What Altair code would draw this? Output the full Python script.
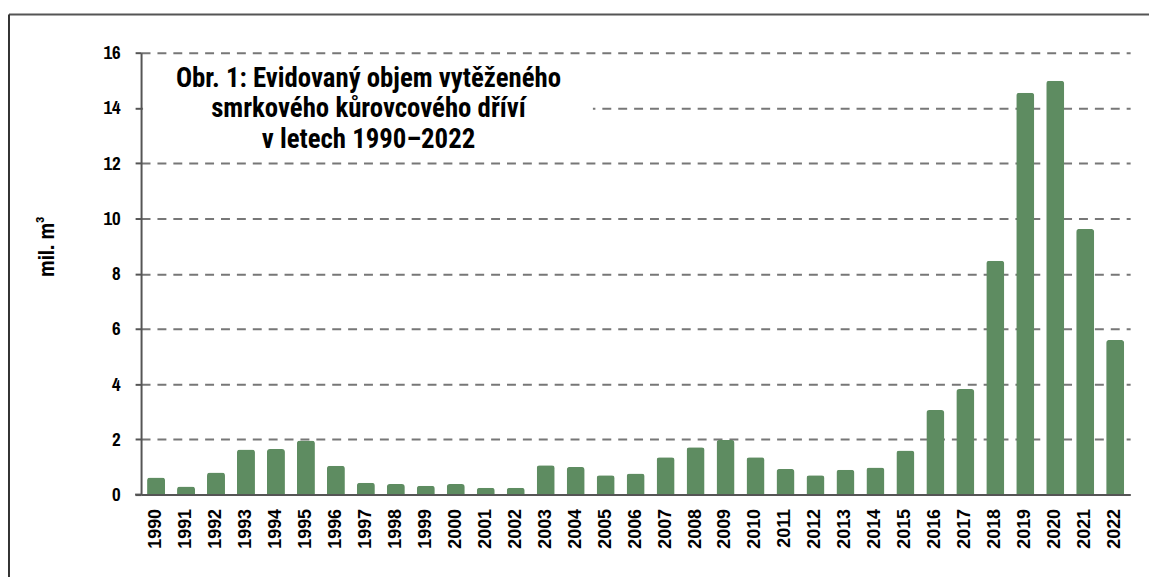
import altair as alt
import pandas as pd

years = ["1990", "1991", "1992", "1993", "1994", "1995", "1996", "1997", "1998", "1999",
         "2000", "2001", "2002", "2003", "2004", "2005", "2006", "2007", "2008", "2009",
         "2010", "2011", "2012", "2013", "2014", "2015", "2016", "2017", "2018", "2019",
         "2020", "2021", "2022"]
values = [0.62, 0.29, 0.80, 1.63, 1.65, 1.96, 1.04, 0.43, 0.38, 0.32,
          0.38, 0.25, 0.25, 1.06, 1.00, 0.70, 0.76, 1.35, 1.71, 1.98,
          1.35, 0.93, 0.70, 0.90, 0.98, 1.60, 3.06, 3.82, 8.47, 14.55,
          14.98, 9.62, 5.60]
y_ticks = [0, 2, 4, 6, 8, 10, 12, 14, 16]
title_lines = ["Obr. 1: Evidovaný objem vytěženého",
               "smrkového kůrovcového dříví",
               "v letech 1990–2022"]
y_title = "mil. m³"

NARROW = "Archivo Narrow"
TITLE_FONT = "Roboto Condensed"
ARIAL = "Liberation Sans"
W, H = 996, 445
PAD = {"left": 134, "top": 43, "right": 19, "bottom": 83}

df = pd.DataFrame({"year": years, "value": values})
one = pd.DataFrame({"k": [0]})

bars = alt.Chart(df).mark_bar(
    color="#5e8c61", cornerRadiusTopLeft=3, cornerRadiusTopRight=3
).encode(
    x=alt.X("year:N", sort=years,
            scale=alt.Scale(paddingInner=0.4, paddingOuter=0.2),
            axis=alt.Axis(title=None, labelAngle=-90, labelFont=ARIAL,
                          labelFontWeight="bold", labelFontSize=18,
                          labelColor="#000", labelPadding=14, ticks=False,
                          tickSize=0, domainColor="#555", domainWidth=2,
                          zindex=1)),
    y=alt.Y("value:Q", scale=alt.Scale(domain=[0, 16], nice=False),
            axis=alt.Axis(title=y_title, values=y_ticks, format="d",
                          labelFont=NARROW, labelFontWeight="bold",
                          labelFontSize=19, labelColor="#000", labelPadding=15,
                          tickSize=6, tickColor="#555", tickWidth=2,
                          domainColor="#555", domainWidth=2,
                          grid=True, gridColor="#777", gridDash=[9, 7],
                          gridWidth=2,
                          titleFont=NARROW, titleFontSize=23,
                          titleFontWeight="bold", titleColor="#000",
                          titleAngle=-90, titleX=-95, titleY=195,
                          titleAlign="center", titleBaseline="middle")),
)

title_box = alt.Chart(one).mark_rect(color="white").encode(
    x=alt.value(2), x2=alt.value(455), y=alt.value(9), y2=alt.value(99)
)

title_layers = [
    alt.Chart(one).mark_text(
        font=TITLE_FONT, fontSize=27, fontWeight="bold", align="center",
        baseline="middle", color="#000"
    ).encode(x=alt.value(229), y=alt.value(26.5 + 30.5 * i), text=alt.value(line))
    for i, line in enumerate(title_lines)
]

axis_stub = alt.Chart(one).mark_rule(color="#555", strokeWidth=2).encode(
    x=alt.value(-6), x2=alt.value(0), y=alt.value(H)
)
frame_top = alt.Chart(one).mark_rule(color="#555", strokeWidth=2).encode(
    x=alt.value(-133), x2=alt.value(W + PAD["right"]), y=alt.value(-38.5)
)
frame_left = alt.Chart(one).mark_rule(color="#333", strokeWidth=2).encode(
    x=alt.value(-133), y=alt.value(-38.5), y2=alt.value(H + PAD["bottom"])
)

chart = alt.layer(bars, title_box, *title_layers, axis_stub, frame_top, frame_left).properties(
    width=W, height=H,
    autosize=alt.AutoSizeParams(type="none"),
    padding=PAD,
    background="white",
).configure_view(stroke=None)

chart.save("out.html", embed_options={"renderer": "svg", "actions": False})
